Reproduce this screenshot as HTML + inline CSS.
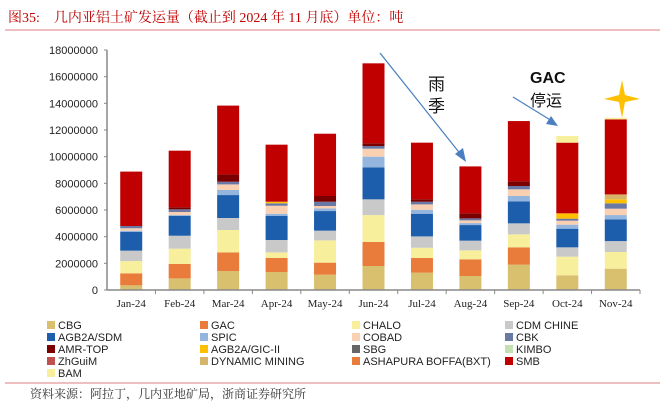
<!DOCTYPE html>
<html><head><meta charset="utf-8">
<style>
body{margin:0;background:#fff;width:665px;height:407px;overflow:hidden;font-family:"Liberation Sans","Noto Sans CJK SC",sans-serif;}
svg text{font-family:"Liberation Sans","Noto Sans CJK SC",sans-serif;}
</style></head>
<body>
<svg id="chart" width="665" height="407" xmlns="http://www.w3.org/2000/svg">
<text x="8" y="22" font-size="14" fill="#c00000" style="font-family:'Liberation Serif','Noto Serif CJK SC',serif">图35:&#160;&#160;&#160;&#160;几内亚铝土矿发运量（截止到 2024 年 11 月底）单位：吨</text>
<line x1="5" y1="30" x2="660" y2="30" stroke="#c00000" stroke-width="0.6"/>
<g id="plot"></g>
<g id="legend"></g>
<text x="30" y="398" font-size="12" fill="#333" style="font-family:'Liberation Serif','Noto Serif CJK SC',serif">资料来源：阿拉丁，几内亚地矿局，浙商证券研究所</text>
<line x1="5" y1="383" x2="660" y2="383" stroke="#c00000" stroke-width="0.6"/>
<g>
<line x1="380" y1="53" x2="462" y2="156" stroke="#4a7fc0" stroke-width="1.2"/>
<polygon points="466,162 455,154 463,148" fill="#4a7fc0"/>
<text x="428" y="90" font-size="17" fill="#111">雨</text>
<text x="428" y="112" font-size="17" fill="#111">季</text>
</g>
<g>
<line x1="513" y1="97" x2="552" y2="121" stroke="#4a7fc0" stroke-width="1.2"/>
<polygon points="558,126 546,124 551,116" fill="#4a7fc0"/>
<text x="530" y="83" font-size="16" font-weight="bold" fill="#111">GAC</text>
<text x="530" y="106" font-size="16" fill="#111">停运</text>
</g>
<polygon points="622,80 625,95 640,99 625,102 622,118 619,102 604,99 619,95" fill="#ffc000"/>
</svg>
<script>
const categories=["Jan-24","Feb-24","Mar-24","Apr-24","May-24","Jun-24","Jul-24","Aug-24","Sep-24","Oct-24","Nov-24"];
const seriesNames=["CBG","GAC","CHALO","CDM CHINE","AGB2A/SDM","SPIC","COBAD","CBK","AMR-TOP","AGB2A/GIC-II","SBG","KIMBO","ZhGuiM","DYNAMIC MINING","ASHAPURA BOFFA(BXT)","SMB","BAM"];
const colors=["#d9c06f","#e97b3b","#f8ef9d","#c9c9c9","#1c5eac","#93b5de","#f9d0b2","#6a78a6","#7a0000","#ffc000","#666666","#c5e0b3","#c0504d","#d6b56a","#e97b3b","#c00000","#f8ef9d"];
const sCBG=[350000,870000,1420000,1350000,1150000,1800000,1300000,1050000,1900000,1100000,1600000];
const sGAC=[900000,1080000,1400000,1050000,900000,1800000,1100000,1250000,1300000,0,0];
const sCHALO=[920000,1150000,1680000,420000,1670000,2020000,770000,670000,970000,1400000,1250000];
const sCDM=[780000,970000,900000,930000,730000,1180000,850000,730000,830000,700000,820000];
const sAGB2A=[1400000,1480000,1720000,1800000,1470000,2400000,1700000,1170000,1650000,1400000,1630000];
const sSPIC=[100000,70000,380000,170000,200000,800000,300000,150000,400000,300000,320000];
const sCOBAD=[180000,230000,420000,600000,180000,600000,400000,200000,500000,300000,480000];
const sCBK=[170000,200000,200000,180000,320000,200000,200000,150000,250000,150000,400000];
const sAMR=[0,150000,550000,0,430000,200000,180000,380000,350000,0,0];
const sGIC=[0,0,0,120000,0,0,0,0,0,400000,300000];
const sSBG=[0,0,0,0,0,0,0,0,0,0,0];
const sKIMBO=[0,0,0,0,0,0,0,0,0,0,0];
const sZhGuiM=[0,0,0,0,0,0,0,0,0,0,0];
const sDYN=[0,0,0,0,0,0,0,0,0,0,370000];
const sASHA=[0,0,0,0,0,0,0,0,0,0,0];
const sSMB=[4080000,4250000,5160000,4280000,4670000,6000000,4250000,3520000,4520000,5300000,5630000];
const sBAM=[0,0,0,0,0,0,0,0,0,500000,120000];
const yTicks=[0,2000000,4000000,6000000,8000000,10000000,12000000,14000000,16000000,18000000];
const allSeries=[sCBG,sGAC,sCHALO,sCDM,sAGB2A,sSPIC,sCOBAD,sCBK,sAMR,sGIC,sSBG,sKIMBO,sZhGuiM,sDYN,sASHA,sSMB,sBAM];

const NS="http://www.w3.org/2000/svg";
const x0=107,x1=640,y0=290,yTop=50,yMax=18000000;
const band=(x1-x0)/categories.length;
function xc(i){return x0+band*(i+0.5);}
function ys(v){return y0-(v/yMax)*(y0-yTop);}
function mk(tag,attrs,parent){const e=document.createElementNS(NS,tag);for(const k in attrs)e.setAttribute(k,attrs[k]);parent.appendChild(e);return e;}
const plot=document.getElementById('plot');
yTicks.forEach(t=>{
  const tx=mk('text',{x:98,y:ys(t)+4,'font-size':11,'text-anchor':'end',fill:'#222'},plot);
  tx.textContent=t;
  
  
  const tk=mk('line',{x1:104,x2:107,y1:ys(t),y2:ys(t),stroke:'#888'},plot);
  
  
});
categories.forEach((c,i)=>{
  let acc=0;
  allSeries.forEach((s,k)=>{
    const v=s[i];if(!v)return;
    const r=mk('rect',{x:xc(i)-11,width:22,y:ys(acc+v),height:ys(acc)-ys(acc+v),fill:colors[k]},plot);
    
    
    acc+=v;
  });
  const lb=mk('text',{x:xc(i),y:307,'font-size':11,'text-anchor':'middle',fill:'#222',style:"font-family:'Liberation Serif',serif"},plot);
  lb.textContent=c;
  
  
  const tk=mk('line',{x1:x0+band*(i+1),x2:x0+band*(i+1),y1:y0,y2:y0+4,stroke:'#888'},plot);
  
  
});
const ya=mk('line',{x1:x0,x2:x0,y1:yTop,y2:y0,stroke:'#888','stroke-width':1.5},plot);


const xa=mk('line',{x1:x0,x2:x1,y1:y0,y2:y0,stroke:'#888','stroke-width':1.5},plot);


const leg=document.getElementById('legend');
const colX=[47,200,352,505];
seriesNames.forEach((n,k)=>{
  const cx=colX[k%4],cy=325+Math.floor(k/4)*12;
  const g=mk('g',{},leg);
  
  
  mk('rect',{x:cx,y:cy-4,width:8,height:8,fill:colors[k]},g);
  const t=mk('text',{x:cx+11,y:cy+4,'font-size':11,fill:'#222'},g);
  t.textContent=n;
});
</script>
</body></html>
